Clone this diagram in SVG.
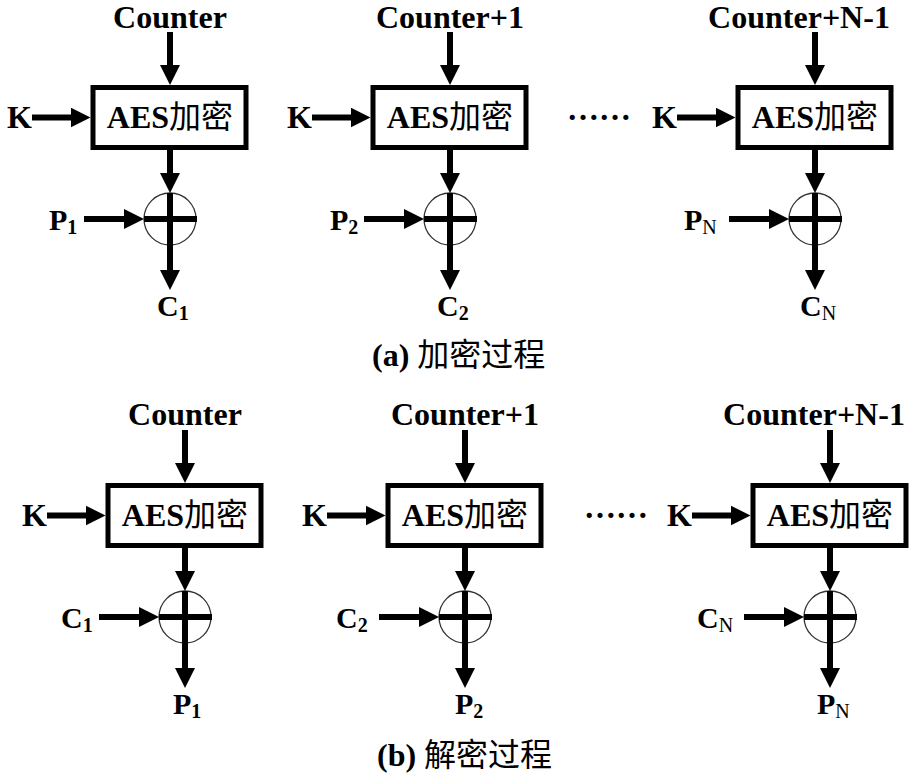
<svg xmlns="http://www.w3.org/2000/svg" width="921" height="777" viewBox="0 0 921 777" font-family="'Liberation Serif', 'Times New Roman', Times, serif">
<style>
.b{font-family:'Liberation Serif','Times New Roman',Times,serif;font-weight:700;font-size:32px;fill:#000}
.l{font-family:'Liberation Serif','Times New Roman',Times,serif;font-weight:700;font-size:30px;fill:#000}
.s{font-size:20px}
.n{font-weight:400}
.cjk{font-family:'Noto Sans CJK SC',sans-serif;font-weight:400}
.box{fill:#fff;stroke:#000;stroke-width:5}
.xor{fill:#fff;stroke:#333;stroke-width:1.3}
.c line{stroke:#000;stroke-width:6}
.c line.a{marker-end:url(#ah)}
</style>
<defs>
<marker id="ah" markerUnits="userSpaceOnUse" markerWidth="20" markerHeight="20" viewBox="0 0 20 20" refX="10" refY="10" orient="auto"><path d="M0,0 L20,10 L0,20 z" fill="#000"/></marker>
</defs>
<rect width="921" height="777" fill="#fff"/>

<g id="aes-a1"><rect class="box" x="93" y="87.5" width="153" height="60"/><text class="b" x="170" y="128" text-anchor="middle">AES<tspan class="cjk">加密</tspan></text></g>
<g id="aes-a2"><rect class="box" x="373" y="87.5" width="153" height="60"/><text class="b" x="450" y="128" text-anchor="middle">AES<tspan class="cjk">加密</tspan></text></g>
<g id="aes-a3"><rect class="box" x="738" y="87.5" width="153" height="60"/><text class="b" x="815" y="128" text-anchor="middle">AES<tspan class="cjk">加密</tspan></text></g>
<g id="xor-a1"><circle class="xor" cx="170" cy="219" r="26"/></g>
<g id="xor-a2"><circle class="xor" cx="450" cy="219" r="26"/></g>
<g id="xor-a3"><circle class="xor" cx="815" cy="219" r="26"/></g>

<g id="aes-b1"><rect class="box" x="108" y="485.5" width="153" height="60"/><text class="b" x="185" y="526" text-anchor="middle">AES<tspan class="cjk">加密</tspan></text></g>
<g id="aes-b2"><rect class="box" x="388" y="485.5" width="153" height="60"/><text class="b" x="465" y="526" text-anchor="middle">AES<tspan class="cjk">加密</tspan></text></g>
<g id="aes-b3"><rect class="box" x="753" y="485.5" width="153" height="60"/><text class="b" x="830" y="526" text-anchor="middle">AES<tspan class="cjk">加密</tspan></text></g>
<g id="xor-b1"><circle class="xor" cx="185" cy="617" r="26"/></g>
<g id="xor-b2"><circle class="xor" cx="465" cy="617" r="26"/></g>
<g id="xor-b3"><circle class="xor" cx="830" cy="617" r="26"/></g>

<g id="connectors" class="c">
<line class="a" x1="170" y1="32" x2="170" y2="75"/>
<line class="a" x1="32" y1="117.5" x2="80.5" y2="117.5"/>
<line class="a" x1="170" y1="150" x2="170" y2="183"/>
<line class="a" x1="170" y1="193" x2="170" y2="280"/>
<line class="a" x1="84" y1="219" x2="134" y2="219"/>
<line x1="144" y1="219" x2="197" y2="219"/>

<line class="a" x1="450" y1="32" x2="450" y2="75"/>
<line class="a" x1="312" y1="117.5" x2="360.5" y2="117.5"/>
<line class="a" x1="450" y1="150" x2="450" y2="183"/>
<line class="a" x1="450" y1="193" x2="450" y2="280"/>
<line class="a" x1="364" y1="219" x2="414" y2="219"/>
<line x1="424" y1="219" x2="477" y2="219"/>

<line class="a" x1="815" y1="32" x2="815" y2="75"/>
<line class="a" x1="677" y1="117.5" x2="725.5" y2="117.5"/>
<line class="a" x1="815" y1="150" x2="815" y2="183"/>
<line class="a" x1="815" y1="193" x2="815" y2="280"/>
<line class="a" x1="729" y1="219" x2="779" y2="219"/>
<line x1="789" y1="219" x2="842" y2="219"/>

<line class="a" x1="185" y1="430" x2="185" y2="473"/>
<line class="a" x1="47" y1="515.5" x2="95.5" y2="515.5"/>
<line class="a" x1="185" y1="548" x2="185" y2="581"/>
<line class="a" x1="185" y1="591" x2="185" y2="678"/>
<line class="a" x1="99" y1="617" x2="149" y2="617"/>
<line x1="159" y1="617" x2="212" y2="617"/>

<line class="a" x1="465" y1="430" x2="465" y2="473"/>
<line class="a" x1="327" y1="515.5" x2="375.5" y2="515.5"/>
<line class="a" x1="465" y1="548" x2="465" y2="581"/>
<line class="a" x1="465" y1="591" x2="465" y2="678"/>
<line class="a" x1="379" y1="617" x2="429" y2="617"/>
<line x1="439" y1="617" x2="492" y2="617"/>

<line class="a" x1="830" y1="430" x2="830" y2="473"/>
<line class="a" x1="692" y1="515.5" x2="740.5" y2="515.5"/>
<line class="a" x1="830" y1="548" x2="830" y2="581"/>
<line class="a" x1="830" y1="591" x2="830" y2="678"/>
<line class="a" x1="744" y1="617" x2="794" y2="617"/>
<line x1="804" y1="617" x2="857" y2="617"/>
</g>

<g id="labels-a">
<text class="b" x="170" y="28" text-anchor="middle">Counter</text>
<text class="b" x="450" y="28" text-anchor="middle">Counter+1</text>
<text class="b" x="799" y="28" text-anchor="middle">Counter+N-1</text>
<text class="b" x="7" y="128">K</text>
<text class="b" x="287" y="128">K</text>
<text class="b" x="652" y="128">K</text>
<text class="b" x="567" y="120">……</text>
<text class="l" x="49" y="230">P<tspan class="s" dy="4">1</tspan></text>
<text class="l" x="330" y="230">P<tspan class="s" dy="4">2</tspan></text>
<text class="l" x="684" y="230">P<tspan class="s n" dy="4">N</tspan></text>
<text class="l" x="157" y="316">C<tspan class="s" dy="4">1</tspan></text>
<text class="l" x="437" y="316">C<tspan class="s" dy="4">2</tspan></text>
<text class="l" x="800" y="316">C<tspan class="s n" dy="4">N</tspan></text>
<text class="b" x="372" y="366">(a) <tspan class="cjk">加密过程</tspan></text>
</g>

<g id="labels-b">
<text class="b" x="185" y="425" text-anchor="middle">Counter</text>
<text class="b" x="465" y="425" text-anchor="middle">Counter+1</text>
<text class="b" x="814" y="425" text-anchor="middle">Counter+N-1</text>
<text class="b" x="22" y="526">K</text>
<text class="b" x="302" y="526">K</text>
<text class="b" x="667" y="526">K</text>
<text class="b" x="584" y="518">……</text>
<text class="l" x="61" y="628">C<tspan class="s" dy="4">1</tspan></text>
<text class="l" x="336" y="628">C<tspan class="s" dy="4">2</tspan></text>
<text class="l" x="697" y="628">C<tspan class="s n" dy="4">N</tspan></text>
<text class="l" x="173" y="714">P<tspan class="s" dy="4">1</tspan></text>
<text class="l" x="455" y="714">P<tspan class="s" dy="4">2</tspan></text>
<text class="l" x="817" y="714">P<tspan class="s n" dy="4">N</tspan></text>
<text class="b" x="377" y="766">(b) <tspan class="cjk">解密过程</tspan></text>
</g>
</svg>
